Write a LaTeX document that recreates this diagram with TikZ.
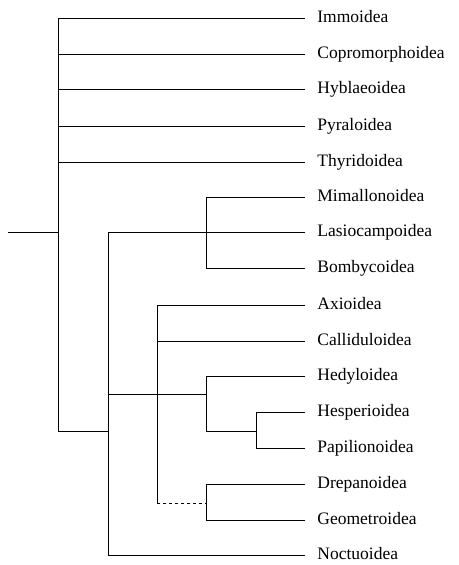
\documentclass[tikz,border=0pt]{standalone}
\usepackage{fontspec}
\setmainfont{Liberation Serif}
\begin{document}
\begin{tikzpicture}[x=1pt, y=-1pt, line width=0.8pt,
    taxon/.style={anchor=west, inner xsep=12pt, inner ysep=0pt,
      text height=0.95em, text depth=0.1em,
      font=\fontsize{17.5}{20}\selectfont},
    branch/.style={draw=black}]
  \useasboundingbox (0,0) rectangle (458,565);

    % ─────────── taxa (tips at x=305) ──────────────────────────────────
    \node[taxon] (immo)   at (305,18)  {Immoidea};
    \node[taxon] (copro)  at (305,54)  {Copromorphoidea};
    \node[taxon] (hybla)  at (305,89)  {Hyblaeoidea};
    \node[taxon] (pyral)  at (305,126) {Pyraloidea};
    \node[taxon] (thyri)  at (305,162) {Thyridoidea};
    \node[taxon] (mimal)  at (305,197) {Mimallonoidea};
    \node[taxon] (lasio)  at (305,232) {Lasiocampoidea};
    \node[taxon] (bomby)  at (305,268) {Bombycoidea};
    \node[taxon] (axio)   at (305,305) {Axioidea};
    \node[taxon] (calli)  at (305,341) {Calliduloidea};
    \node[taxon] (hedy)   at (305,376) {Hedyloidea};
    \node[taxon] (hesp)   at (305,412) {Hesperioidea};
    \node[taxon] (papil)  at (305,448) {Papilionoidea};
    \node[taxon] (drepa)  at (305,484) {Drepanoidea};
    \node[taxon] (geom)   at (305,520) {Geometroidea};
    \node[taxon] (noctu)  at (305,555) {Noctuoidea};

    % ─────────── inner nodes ───────────────────────────────────────────
    \coordinate (stem)  at (8,232);
    \coordinate (root)  at (58,232);
    \coordinate (ditr)  at (108,431);
    \coordinate (bomb)  at (206,232);
    \coordinate (axic)  at (157,394);
    \coordinate (axib)  at (157,503);
    \coordinate (rhop)  at (206,394);
    \coordinate (papc)  at (256,431);
    \coordinate (geoc)  at (206,503);

    % ─────────── root polytomy ─────────────────────────────────────────
    \draw (stem) -- (root);
    \draw (root) |- (immo.west);
    \draw (root) |- (copro.west);
    \draw (root) |- (hybla.west);
    \draw (root) |- (pyral.west);
    \draw (root) |- (thyri.west);
    \draw (root) |- (ditr);

    % ─────────── remaining clade ───────────────────────────────────────
    \draw (ditr) |- (lasio.west);
    \draw (ditr) |- (noctu.west);
    \draw (ditr) |- (rhop);
    \draw (bomb) |- (mimal.west);
    \draw (bomb) |- (bomby.west);
    \draw (axic) |- (axio.west);
    \draw (axic) |- (calli.west);
    \draw (axic) -- (axib);
    \draw[dashed] (axib) -- (geoc);
    \draw (rhop) |- (hedy.west);
    \draw (rhop) |- (papc);
    \draw (papc) |- (hesp.west);
    \draw (papc) |- (papil.west);
    \draw (geoc) |- (drepa.west);
    \draw (geoc) |- (geom.west);
  \end{tikzpicture}
\end{document}
